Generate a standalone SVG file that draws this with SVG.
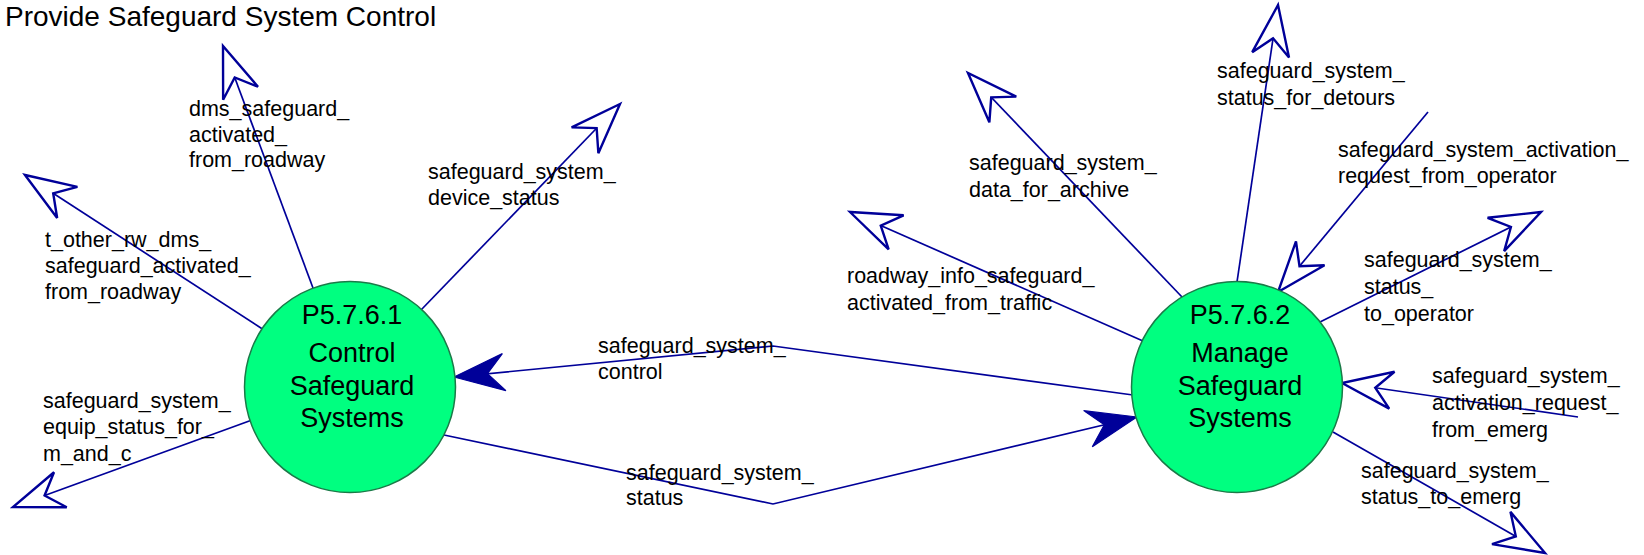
<svg xmlns="http://www.w3.org/2000/svg" width="1644" height="555" viewBox="0 0 1644 555">
<style>
.bg{fill:#ffffff}
.title{font-family:"Liberation Sans",Arial,sans-serif;font-size:28px;fill:#000}
.proc{fill:#00ff80;stroke:#1b7a48;stroke-width:1.5}
.ptext{font-family:"Liberation Sans",Arial,sans-serif;font-size:27px;fill:#000;text-anchor:middle}
.lbl{font-family:"Liberation Sans",Arial,sans-serif;font-size:21.5px;fill:#000}
.flow{fill:none;stroke:#000099;stroke-width:1.7}
.open{marker-end:url(#openArrow)}
.solid{marker-end:url(#solidArrow)}
</style>
<defs>
<marker id="openArrow" markerUnits="userSpaceOnUse" markerWidth="60" markerHeight="50" viewBox="-46 -20 50 40" refX="0" refY="0" orient="auto" overflow="visible">
<path d="M0,0 L-42,-15.5 L-28,0 L-42,15.5 Z" fill="#ffffff" stroke="#000099" stroke-width="2" stroke-linejoin="miter"/>
</marker>
<marker id="solidArrow" markerUnits="userSpaceOnUse" markerWidth="60" markerHeight="50" viewBox="-46 -20 50 40" refX="0" refY="0" orient="auto" overflow="visible">
<path d="M0,0 L-42,-15.5 L-28,0 L-42,15.5 Z" fill="#000099" stroke="#000099" stroke-width="1"/>
</marker>
</defs>
<rect class="bg" x="0" y="0" width="1644" height="555"/>
<text class="title" x="5" y="26">Provide Safeguard System Control</text>

<g id="connectors">
<g id="c-dms"><path class="flow open" d="M313,288 L223,46"/>
<text class="lbl"><tspan x="189" y="116">dms_safeguard_</tspan><tspan x="189" y="141.5">activated_</tspan><tspan x="189" y="167">from_roadway</tspan></text></g>
<g id="c-device"><path class="flow open" d="M421,310 L620,104"/>
<text class="lbl"><tspan x="428" y="179">safeguard_system_</tspan><tspan x="428" y="205">device_status</tspan></text></g>
<g id="c-tother"><path class="flow open" d="M264,330 L25,175"/>
<text class="lbl"><tspan x="45" y="247">t_other_rw_dms_</tspan><tspan x="45" y="273">safeguard_activated_</tspan><tspan x="45" y="299">from_roadway</tspan></text></g>
<g id="c-equip"><path class="flow open" d="M252,420 L13,507"/>
<text class="lbl"><tspan x="43" y="408">safeguard_system_</tspan><tspan x="43" y="434">equip_status_for_</tspan><tspan x="43" y="461">m_and_c</tspan></text></g>
<g id="c-control"><path class="flow solid" d="M1133,395 L773,346 L454,377"/>
<text class="lbl"><tspan x="598" y="353">safeguard_system_</tspan><tspan x="598" y="379">control</tspan></text></g>
<g id="c-status"><path class="flow solid" d="M444,435 L773,504 L1137,417"/>
<text class="lbl"><tspan x="626" y="480">safeguard_system_</tspan><tspan x="626" y="505">status</tspan></text></g>
<g id="c-roadway"><path class="flow open" d="M1143,341 L850,212"/>
<text class="lbl"><tspan x="847" y="283">roadway_info_safeguard_</tspan><tspan x="847" y="310">activated_from_traffic</tspan></text></g>
<g id="c-archive"><path class="flow open" d="M1182,297 L968,73"/>
<text class="lbl"><tspan x="969" y="170">safeguard_system_</tspan><tspan x="969" y="197">data_for_archive</tspan></text></g>
<g id="c-detours"><path class="flow open" d="M1237,282 L1278,5"/>
<text class="lbl"><tspan x="1217" y="78">safeguard_system_</tspan><tspan x="1217" y="105">status_for_detours</tspan></text></g>
<g id="c-opreq"><path class="flow open" d="M1428,112 L1278,292"/>
<text class="lbl"><tspan x="1338" y="157">safeguard_system_activation_</tspan><tspan x="1338" y="183">request_from_operator</tspan></text></g>
<g id="c-toop"><path class="flow open" d="M1320,322 L1541,212"/>
<text class="lbl"><tspan x="1364" y="267">safeguard_system_</tspan><tspan x="1364" y="294">status_</tspan><tspan x="1364" y="321">to_operator</tspan></text></g>
<g id="c-emreq"><path class="flow open" d="M1578,417 L1342,383"/>
<text class="lbl"><tspan x="1432" y="383">safeguard_system_</tspan><tspan x="1432" y="410">activation_request_</tspan><tspan x="1432" y="437">from_emerg</tspan></text></g>
<g id="c-toemerg"><path class="flow open" d="M1333,432 L1545,553"/>
<text class="lbl"><tspan x="1361" y="478">safeguard_system_</tspan><tspan x="1361" y="504">status_to_emerg</tspan></text></g>
</g>

<g id="P5.7.6.1">
<circle class="proc" cx="350" cy="387" r="105.5"/>
<text class="ptext"><tspan x="352" y="324">P5.7.6.1</tspan><tspan x="352" y="362">Control</tspan><tspan x="352" y="395">Safeguard</tspan><tspan x="352" y="427">Systems</tspan></text>
</g>
<g id="P5.7.6.2">
<circle class="proc" cx="1237" cy="387" r="105.5"/>
<text class="ptext"><tspan x="1240" y="324">P5.7.6.2</tspan><tspan x="1240" y="362">Manage</tspan><tspan x="1240" y="395">Safeguard</tspan><tspan x="1240" y="427">Systems</tspan></text>
</g>
</svg>
